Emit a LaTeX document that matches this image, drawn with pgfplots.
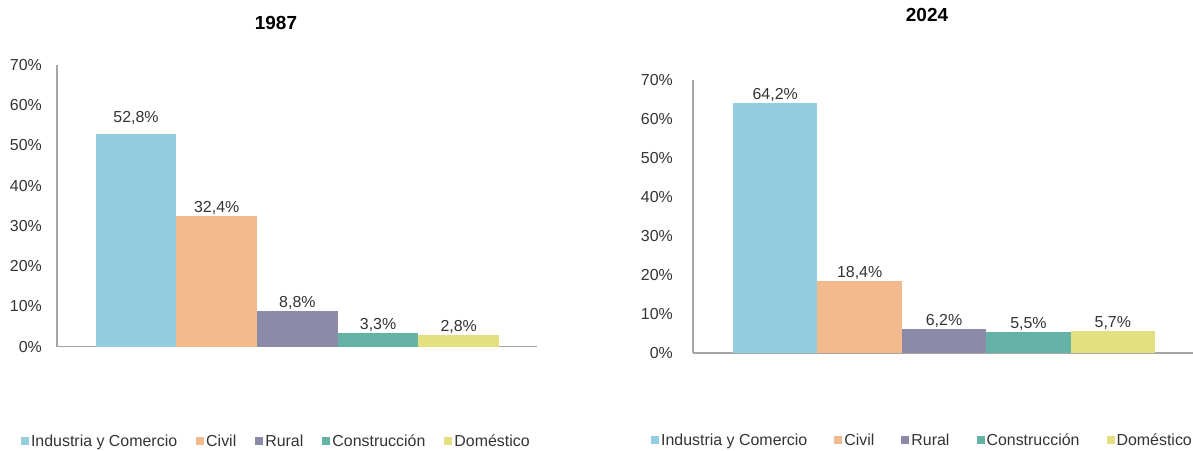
\documentclass[border=0pt]{standalone}
\usepackage{fontspec}
\setmainfont{Liberation Sans}
\usepackage{pgfplots}
\pgfplotsset{compat=1.18}

\definecolor{cInd}{HTML}{93CDDE}
\definecolor{cCiv}{HTML}{F3BB8D}
\definecolor{cRur}{HTML}{8B8AA9}
\definecolor{cCon}{HTML}{65B3A6}
\definecolor{cDom}{HTML}{E5E07F}
\definecolor{axgray}{HTML}{A6A6A6}
\definecolor{txt}{HTML}{333333}

\pgfplotsset{
  sq legend/.style={legend image code/.code={\fill[##1] (0bp,-4bp) rectangle (8bp,4bp);}},
  share/.style={
    scale only axis,
    ybar, bar width=1, bar shift=0pt,
    ymin=0, ymax=70,
    ytick={0,10,...,70},
    yticklabel={\pgfmathprintnumber{\tick}\%},
    xtick=\empty,
    axis x line=bottom, axis y line=left,
    axis line style={-, axgray, line width=1.2bp},
    major tick length=0pt,
    /pgf/number format/assume math mode=true,
    tick label style={font=\fontsize{16}{18}\selectfont, text=txt},
    yticklabel style={inner sep=0pt, anchor=east, xshift=-15bp},
    nodes near coords={\pgfmathprintnumber[fixed,fixed zerofill,precision=1,use comma]{\pgfplotspointmeta}\%},
    every node near coord/.append style={font=\fontsize{16}{18}\selectfont, text=txt, anchor=south, inner sep=1.2bp},
    sq legend,
    legend columns=5,
    legend style={draw=none, fill=none, font=\fontsize{16}{18}\selectfont, text=txt,
      /tikz/every odd column/.append style={column sep=1bp},
      /tikz/every even column/.append style={column sep=18bp},
      nodes={inner sep=1bp}},
  },
}

\begin{document}
\begin{tikzpicture}[x=1bp,y=1bp]
\useasboundingbox (0,0) rectangle (1193,451);

% 1987
\begin{axis}[share,
  at={(57bp,104.3bp)}, anchor=south west,
  width=480bp, height=281.7bp,
  xmin=-0.98, xmax=4.97,
  legend style={at={(0.456,-0.335)}, anchor=center},
]
\addplot[fill=cInd, draw=none, every node near coord/.append style={yshift=8bp}] coordinates {(0,52.8)};
\addplot[fill=cCiv, draw=none] coordinates {(1,32.4)};
\addplot[fill=cRur, draw=none] coordinates {(2,8.8)};
\addplot[fill=cCon, draw=none] coordinates {(3,3.3)};
\addplot[fill=cDom, draw=none] coordinates {(4,2.8)};
\legend{Industria y Comercio, Civil, Rural, Construcción, Doméstico}
\end{axis}

% 2024
\begin{axis}[share,
  at={(693bp,98bp)}, anchor=south west,
  width=500bp, height=273bp,
  xmin=-0.974, xmax=4.95,
  yticklabel style={xshift=-5bp},
  legend style={at={(0.458,-0.319)}, anchor=center,
    /tikz/every even column/.append style={column sep=26bp}},
]
\addplot[fill=cInd, draw=none] coordinates {(0,64.2)};
\addplot[fill=cCiv, draw=none] coordinates {(1,18.4)};
\addplot[fill=cRur, draw=none] coordinates {(2,6.2)};
\addplot[fill=cCon, draw=none] coordinates {(3,5.5)};
\addplot[fill=cDom, draw=none] coordinates {(4,5.7)};
\legend{Industria y Comercio, Civil, Rural, Construcción, Doméstico}
\end{axis}

\node[font=\bfseries\fontsize{19}{21}\selectfont] at (276,428) {1987};
\node[font=\bfseries\fontsize{19}{21}\selectfont] at (927,436) {2024};
\end{tikzpicture}
\end{document}
